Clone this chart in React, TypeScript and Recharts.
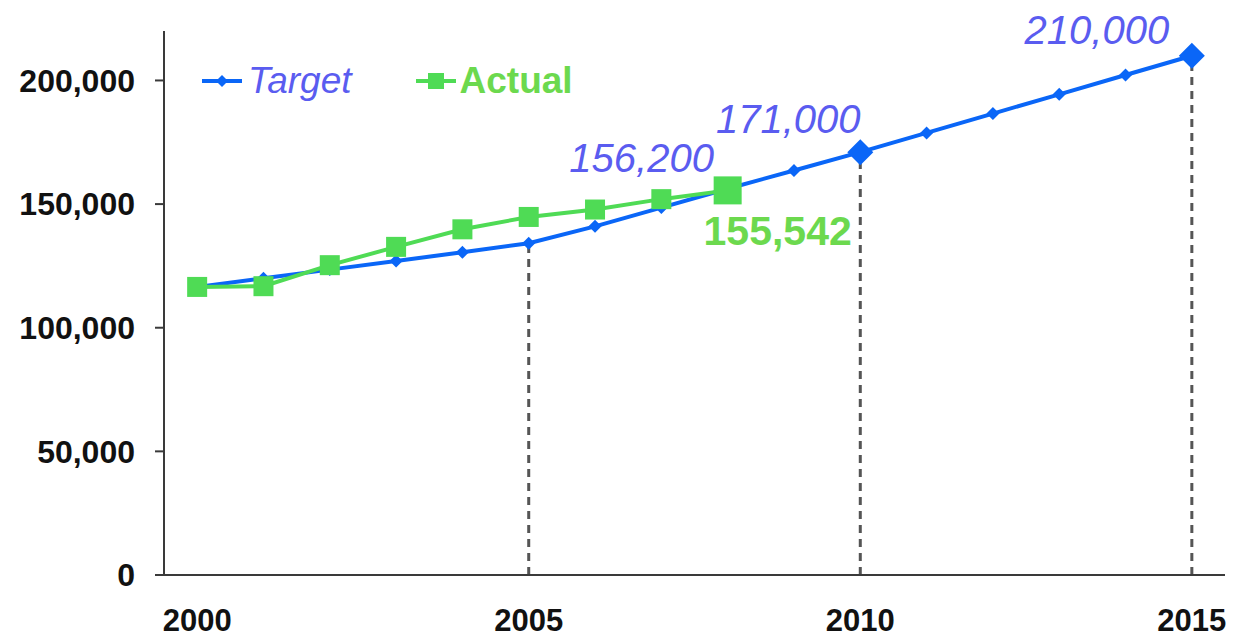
import React from 'react';
import { LineChart, Line, XAxis, YAxis, ReferenceLine, LabelList } from 'recharts';

const years = [2000, 2001, 2002, 2003, 2004, 2005, 2006, 2007, 2008, 2009, 2010, 2011, 2012, 2013, 2014, 2015];
const target = [116500, 120000, 123500, 127000, 130500, 134200, 141000, 148600, 156200, 163600, 171000, 178800, 186600, 194400, 202200, 210000];
const actual = [116500, 116800, 125300, 132700, 139800, 144800, 147800, 152000, 155542];
const yTicks = [0, 50000, 100000, 150000, 200000];
const yearLabels = [2000, 2005, 2010, 2015];
const yearEdges = [1999.5, 2000.5, 2001.5, 2002.5, 2003.5, 2004.5, 2005.5, 2006.5, 2007.5, 2008.5, 2009.5, 2010.5, 2011.5, 2012.5, 2013.5, 2014.5, 2015.5];
const dropYears = [2005, 2010, 2015];
const bigTargetYears = [2010, 2015];
const bigActualYears = [2008];
const targetCallouts = [2008, 2010, 2015];
const actualCallouts = [2008];

const data = years.map((year, i) => ({
  year,
  target: target[i],
  actual: i < actual.length ? actual[i] : null,
}));

const FONT = '"Liberation Sans", Arial, sans-serif';
const BLUE = '#0a66f7';
const GREEN = '#4fdb55';
const BLUE_TEXT = '#5a5cf0';
const GREEN_TEXT = '#6cd94e';
const AXIS = '#3a3a3a';

const fmt = (v: number) => v.toLocaleString('en-US');

// offsets of the callout text from its point: [dx, baseline dy]
const targetOffsets: Record<number, [number, number]> = {
  2008: [-86, -17],
  2010: [-72, -19],
  2015: [-95, -12],
};

const TargetDot = (props: any) => {
  const { cx, cy, payload } = props;
  if (cx == null || cy == null) return null;
  const r = bigTargetYears.includes(payload.year) ? 13 : 6.5;
  return (
    <path
      key={`td-${payload.year}`}
      d={`M${cx},${cy - r}L${cx + r},${cy}L${cx},${cy + r}L${cx - r},${cy}Z`}
      fill={BLUE}
    />
  );
};

const ActualDot = (props: any) => {
  const { cx, cy, payload } = props;
  if (cx == null || cy == null || payload.actual == null) return null;
  const s = bigActualYears.includes(payload.year) ? 14 : 10;
  return <rect key={`ad-${payload.year}`} x={cx - s} y={cy - s} width={s * 2} height={s * 2} fill={GREEN} />;
};

const TargetLabel = (props: any) => {
  const { x, y, index } = props;
  const year = years[index];
  if (!targetCallouts.includes(year)) return null;
  const [dx, dy] = targetOffsets[year];
  return (
    <text x={x + dx} y={y + dy} textAnchor="middle" fill={BLUE_TEXT} fontSize={40} fontStyle="italic" fontFamily={FONT}>
      {fmt(target[index])}
    </text>
  );
};

const ActualLabel = (props: any) => {
  const { x, y, index } = props;
  const year = years[index];
  if (!actualCallouts.includes(year)) return null;
  return (
    <text x={x + 50} y={y + 55} textAnchor="middle" fill={GREEN_TEXT} fontSize={41} fontWeight="bold" fontFamily={FONT}>
      {fmt(actual[index])}
    </text>
  );
};

const LegendBox = () => (
  <div
    style={{
      position: 'absolute',
      left: 200,
      top: 61,
      display: 'flex',
      alignItems: 'center',
      fontFamily: FONT,
      fontSize: 37,
      lineHeight: '40px',
    }}
  >
    <svg width={44} height={20}>
      <line x1={2} y1={10} x2={42} y2={10} stroke={BLUE} strokeWidth={4} />
      <path d="M22,4L28,10L22,16L16,10Z" fill={BLUE} />
    </svg>
    <span style={{ color: BLUE_TEXT, fontStyle: 'italic', marginLeft: 4 }}>Target</span>
    <svg width={44} height={20} style={{ marginLeft: 62 }}>
      <line x1={2} y1={10} x2={42} y2={10} stroke={GREEN} strokeWidth={4} />
      <rect x={14} y={2} width={16} height={16} fill={GREEN} />
    </svg>
    <span style={{ color: GREEN_TEXT, fontWeight: 'bold', marginLeft: 2 }}>Actual</span>
  </div>
);

export default function App() {
  return (
    <div style={{ position: 'absolute', left: 0, top: 0, width: 1234, height: 639, background: '#fff' }}>
      <LineChart width={1234} height={639} data={data} margin={{ top: 31, right: 9, bottom: 0, left: 0 }}>
        <XAxis
          xAxisId="grid"
          dataKey="year"
          type="number"
          domain={[1999.5, 2015.5]}
          ticks={yearEdges}
          tick={false}
          tickSize={9}
          height={10}
          axisLine={{ stroke: AXIS, strokeWidth: 2 }}
          tickLine={{ stroke: AXIS, strokeWidth: 2 }}
        />
        <XAxis
          xAxisId="labels"
          dataKey="year"
          type="number"
          domain={[1999.5, 2015.5]}
          ticks={yearLabels}
          height={54}
          axisLine={false}
          tickLine={false}
          tickSize={0}
          tickMargin={24}
          tick={{ fill: '#111', fontSize: 31, fontWeight: 'bold', fontFamily: FONT }}
        />
        <YAxis
          domain={[0, 220000]}
          ticks={yTicks}
          width={164}
          tickSize={9}
          tickMargin={20}
          tickFormatter={fmt}
          axisLine={{ stroke: AXIS, strokeWidth: 2 }}
          tickLine={{ stroke: AXIS, strokeWidth: 2 }}
          tick={{ fill: '#111', fontSize: 32, fontWeight: 'bold', fontFamily: FONT }}
        />
        {dropYears.map((yr) => (
          <ReferenceLine
            key={yr}
            xAxisId="grid"
            segment={[{ x: yr, y: 0 }, { x: yr, y: target[years.indexOf(yr)] }]}
            stroke="#555"
            strokeWidth={3}
            strokeDasharray="8 6"
          />
        ))}
        <Line
          xAxisId="grid"
          dataKey="target"
          stroke={BLUE}
          strokeWidth={4}
          dot={TargetDot}
          activeDot={false}
          isAnimationActive={false}
        >
          <LabelList dataKey="target" content={TargetLabel} />
        </Line>
        <Line
          xAxisId="grid"
          dataKey="actual"
          stroke={GREEN}
          strokeWidth={4}
          dot={ActualDot}
          activeDot={false}
          isAnimationActive={false}
        >
          <LabelList dataKey="actual" content={ActualLabel} />
        </Line>
      </LineChart>
      <LegendBox />
    </div>
  );
}
